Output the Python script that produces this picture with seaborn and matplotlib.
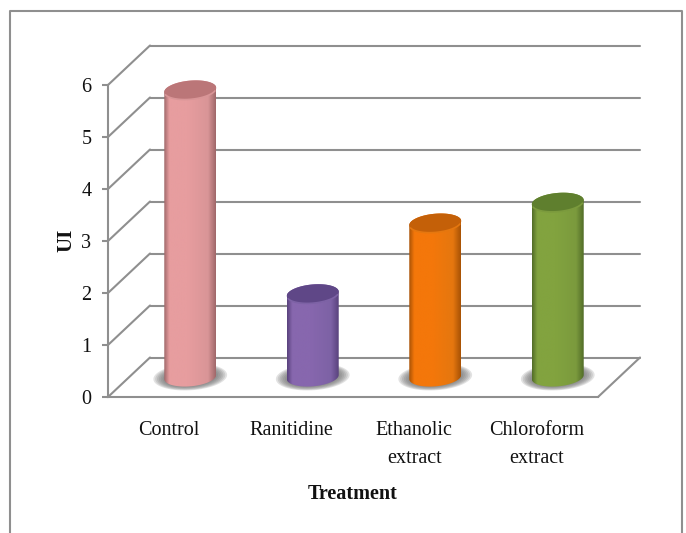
import matplotlib
matplotlib.use('Agg')
import matplotlib.pyplot as plt
import matplotlib.transforms as mtrans
from matplotlib.colors import LinearSegmentedColormap
from matplotlib.lines import Line2D
from matplotlib.patches import Polygon
import numpy as np
import pandas as pd
import seaborn as sns

treatments = ['Control', 'Ranitidine', 'Ethanolic\nextract', 'Chloroform\nextract']
ui_values = [5.52, 1.60, 2.96, 3.36]
y_ticks = [0, 1, 2, 3, 4, 5, 6]

light_cols = ['#e79d9f', '#8767ae', '#f4770a', '#82a33f']
dark_cols = ['#a0686a', '#59427d', '#a85205', '#526d28']
top_cols = ['#bb7678', '#5f4787', '#c46008', '#5f7f2e']
rim_cols = ['#d99597', '#7d62a5', '#e5770f', '#7b9a3d']

GREY = '#8f8f8f'
W, H = 686, 533

sns.set_theme(style='white')
plt.rcParams['font.family'] = ['Liberation Serif', 'DejaVu Serif']

fig = plt.figure(figsize=(W/100, H/100), dpi=100)

def box(left, bottom, right, top):
    return [left/W, 1-bottom/H, (right-left)/W, (bottom-top)/H]

# outer frame of the picture
fig.add_artist(Line2D([10/W, 10/W, 682/W, 682/W], [0, 1-11/H, 1-11/H, 0], color=GREY, lw=1.5))

ax = fig.add_axes(box(108, 397, 598, 85))
ax.set_xlim(-0.5, 3.5)
ax.set_ylim(0, 6)
ax.patch.set_alpha(0)
for s in ['top', 'right']:
    ax.spines[s].set_visible(False)
for s in ['left', 'bottom']:
    ax.spines[s].set_color(GREY)
    ax.spines[s].set_linewidth(1.5)
ax.set_yticks(y_ticks)
ax.set_xticks(range(len(treatments)), treatments)
ax.tick_params(axis='y', length=4, width=1.5, color=GREY, pad=8, labelsize=14.5, left=True, labelcolor='#111111')
ax.tick_params(axis='x', length=0, pad=17.5, labelsize=14.5, labelcolor='#111111')
for t in ax.get_xticklabels():
    t.set_linespacing(1.6)

# back wall and floor, shifted into depth
back = mtrans.offset_copy(ax.transData, fig=fig, x=42, y=39.5, units='dots')
xa, xb = ax.get_xlim()
for v in y_ticks:
    ax.plot([xa, xb], [v, v], transform=back, color=GREY, lw=1.5, clip_on=False, zorder=1)
    p0 = ax.transData.transform((xa, v))
    p1 = back.transform((xa, v))
    ax.add_artist(Line2D([p0[0], p1[0]], [p0[1], p1[1]], transform=None, color=GREY, lw=1.5, clip_on=False))
p0 = ax.transData.transform((xb, 0))
p1 = back.transform((xb, 0))
ax.add_artist(Line2D([p0[0], p1[0]], [p0[1], p1[1]], transform=None, color=GREY, lw=1.5, clip_on=False))

ax.set_xlabel('Treatment', fontsize=14.5, fontweight='bold', color='#111111', labelpad=12)
fig.text(66/W, 1-240/H, 'UI', rotation=90, fontsize=15, fontweight='bold', color='#111111', ha='center', va='center')

# cylinders stand halfway into the depth
ax_bar = fig.add_axes(box(129, 377, 619, 65))
df = pd.DataFrame({'treatment': treatments, 'ui': ui_values})
sns.barplot(data=df, x='treatment', y='ui', hue='treatment', palette=light_cols, legend=False,
            width=0.424, saturation=1, ax=ax_bar)

def ring(cx, cy, a, b, s, t):
    return cx + a*np.cos(t), cy + b*np.sin(t) + s*np.cos(t)

RX_B, SH = 0.18, 0.04
for i, bar in enumerate(ax_bar.patches):
    x0, w, h = bar.get_x(), bar.get_width(), bar.get_height()
    cx, a = x0 + w/2, w/2
    # soft shadow on the floor
    for f in np.linspace(1.42, 1.0, 7):
        t = np.linspace(0, 2*np.pi, 80)
        sx, sy = ring(cx, 0.0, a*f, 0.18*f, SH, t)
        ax_bar.add_patch(Polygon(np.c_[sx, sy], fc='#6f6f6f', ec='none', alpha=0.2, zorder=1, clip_on=False))
    # body: lower half of base ring, then upper half of top ring
    t1 = np.linspace(np.pi, 2*np.pi, 40)
    t2 = np.linspace(0, np.pi, 40)
    bx, by = ring(cx, 0, a, RX_B, SH, t1)
    tx, ty = ring(cx, h, a, RX_B, SH, t2)
    outline = Polygon(np.r_[np.c_[bx, by], np.c_[tx, ty]], fc='none', ec='none', transform=ax_bar.transData)
    ax_bar.add_patch(outline)
    cmap = LinearSegmentedColormap.from_list('c', [(0, dark_cols[i]), (0.1, light_cols[i]), (0.45, light_cols[i]),
                                                   (0.85, rim_cols[i]), (1, dark_cols[i])])
    im = ax_bar.imshow(np.linspace(0, 1, 128)[None, :], cmap=cmap, aspect='auto', zorder=3,
                       extent=[x0, x0+w, -0.4, h+0.4], interpolation='bilinear')
    im.set_clip_path(outline)
    im.set_clip_box(fig.bbox)
    # top face
    t = np.linspace(0, 2*np.pi, 80)
    ex, ey = ring(cx, h, a, RX_B, SH, t)
    ax_bar.add_patch(Polygon(np.c_[ex, ey], fc=top_cols[i], ec='none', zorder=4, clip_on=False))
    lx, ly = ring(cx, h, a, RX_B, SH, np.linspace(-0.1*np.pi, -0.9*np.pi, 40))
    ax_bar.plot(lx, ly, color=rim_cols[i], lw=1.2, zorder=5, clip_on=False)
    bar.set_visible(False)

ax_bar.set_xlim(-0.5, 3.5)
ax_bar.set_ylim(0, 6)
ax_bar.axis('off')

plt.savefig('out.png', dpi=100)
